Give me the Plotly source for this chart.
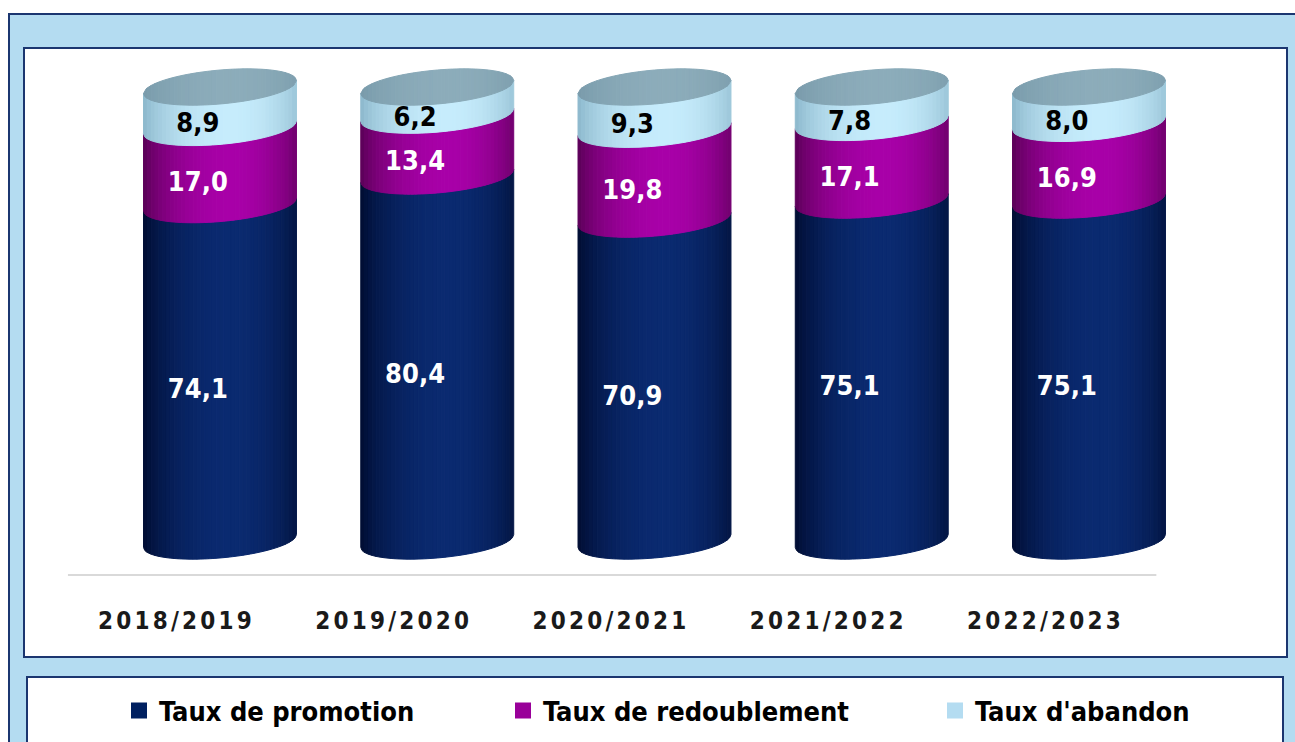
import numpy as np
import plotly.graph_objects as go

# ---------------- data ----------------
categories = ["2018/2019", "2019/2020", "2020/2021", "2021/2022", "2022/2023"]
promotion = [74.1, 80.4, 70.9, 75.1, 75.1]
redoublement = [17.0, 13.4, 19.8, 17.1, 16.9]
abandon = [8.9, 6.2, 9.3, 7.8, 8.0]
series_names = ["Taux de promotion", "Taux de redoublement", "Taux d'abandon"]

# ---------------- style ----------------
FONT = "DejaVu Sans Condensed, DejaVu Sans, Noto Sans, sans-serif"
NAVY_LINE = "#1b3670"
BG_BLUE = "#b4dcf1"
legend_colors = ["#002060", "#990099", "#b4dcf1"]
# (edge rgb, highlight rgb) for the side gradients
grad_colors = [
    ((0, 12, 48), (10, 42, 112)),
    ((88, 0, 84), (168, 0, 168)),
    ((138, 182, 202), (198, 236, 252)),
]
cap_grad = ((120, 154, 170), (140, 172, 186))
label_colors = ["white", "white", "black"]

W_PX, H_PX = 1295, 742
# cylinder geometry (data units)
HALF_W = 0.352      # half width in category units
B = 3.74            # vertical semi-axis of ellipses (value units)
S = 1.43            # tilt of ellipse midline (value units, right side higher)
N_STRIPS = 40


def front(v, t):
    return v + S * t - B * np.sqrt(np.clip(1 - t * t, 0, None))


def back(v, t):
    return v + S * t + B * np.sqrt(np.clip(1 - t * t, 0, None))


def shade(pair, t):
    edge, hi = pair
    tc = 0.15
    d = (1 + tc) if t < tc else (1 - tc + 0.12)
    f = max(0.0, 1 - ((t - tc) / d) ** 2) ** 0.8
    c = [int(round(e + (h - e) * f)) for e, h in zip(edge, hi)]
    return "rgb(%d,%d,%d)" % tuple(c)


fig = go.Figure()
n = len(categories)
xpos = np.arange(n)
t_edges = np.linspace(-1, 1, N_STRIPS + 1)

series = [promotion, redoublement, abandon]
lower = np.zeros(n)
bounds = []
for s_idx, vals in enumerate(series):
    upper = lower + np.array(vals)
    bounds.append((lower.copy(), upper.copy()))
    for k in range(N_STRIPS):
        t0, t1 = t_edges[k], t_edges[k + 1]
        ts = np.linspace(t0, t1, 4)
        xs, ys = [], []
        for i in range(n):
            xt = xpos[i] + HALF_W * ts
            yt = front(upper[i], ts)
            xb = xpos[i] + HALF_W * ts[::-1]
            yb = front(lower[i], ts[::-1])
            xs += list(xt) + list(xb) + [xt[0], None]
            ys += list(yt) + list(yb) + [yt[0], None]
        col = shade(grad_colors[s_idx], (t0 + t1) / 2)
        fig.add_trace(go.Scatter(x=xs, y=ys, mode="lines", fill="toself",
                                 fillcolor=col, line=dict(color=col, width=1),
                                 hoverinfo="skip", showlegend=False))
    lower = upper

# top caps
totals = lower
for k in range(N_STRIPS):
    t0, t1 = t_edges[k], t_edges[k + 1]
    ts = np.linspace(t0, t1, 4)
    xs, ys = [], []
    for i in range(n):
        xt = xpos[i] + HALF_W * ts
        yt = back(totals[i], ts)
        xb = xpos[i] + HALF_W * ts[::-1]
        yb = front(totals[i], ts[::-1])
        xs += list(xt) + list(xb) + [xt[0], None]
        ys += list(yt) + list(yb) + [yt[0], None]
    col = shade(cap_grad, (t0 + t1) / 2)
    fig.add_trace(go.Scatter(x=xs, y=ys, mode="lines", fill="toself",
                             fillcolor=col, line=dict(color=col, width=1),
                             hoverinfo="skip", showlegend=False))

# value labels (on the front face of each segment)
T_LABEL = -0.29
for s_idx, vals in enumerate(series):
    lo, up = bounds[s_idx]
    mids = (lo + up) / 2
    fig.add_trace(go.Scatter(
        x=xpos + HALF_W * T_LABEL,
        y=front(mids, T_LABEL),
        mode="text",
        text=[("%.1f" % v).replace(".", ",") for v in vals],
        textposition="middle center",
        textfont=dict(family=FONT, size=27, color=label_colors[s_idx], weight="bold"),
        hoverinfo="skip", showlegend=False))

# legend entries (one legend per item so they can sit like the original)
legend_keys = ["legend", "legend2", "legend3"]
for s_idx, name in enumerate(series_names):
    fig.add_trace(go.Scatter(
        x=[None], y=[None], mode="markers", name=name,
        marker=dict(symbol="square", size=16, color=legend_colors[s_idx]),
        legend=legend_keys[s_idx], showlegend=True))

# ---------------- layout ----------------
def px_x(p):
    return p / W_PX


def px_y(p):
    return 1 - p / H_PX


dom_top, dom_bot = 48, 604
px_per_unit = 4.54
zero_px = 541
y0 = -(dom_bot - zero_px) / px_per_unit
y1 = y0 + (dom_bot - dom_top) / px_per_unit

box_l, box_r = 24, 1287
x_unit = 217.25
first_center = 220
x0 = -(first_center - box_l) / x_unit
x1 = x0 + (box_r - box_l) / x_unit

# category labels sit a little left of the cylinders (perspective)
LABEL_OFFSET = -0.2

shapes = [
    # outer light-blue frame
    dict(type="rect", xref="paper", yref="paper", x0=px_x(9), x1=1.02,
         y0=px_y(14), y1=-0.02, fillcolor=BG_BLUE,
         line=dict(color=NAVY_LINE, width=2), layer="below"),
    # chart area
    dict(type="rect", xref="paper", yref="paper", x0=px_x(24), x1=px_x(1287),
         y0=px_y(48), y1=px_y(657), fillcolor="white",
         line=dict(color=NAVY_LINE, width=2), layer="below"),
    # legend area
    dict(type="rect", xref="paper", yref="paper", x0=px_x(27), x1=px_x(1283),
         y0=px_y(677), y1=-0.02, fillcolor="white",
         line=dict(color=NAVY_LINE, width=2), layer="below"),
    # floor line
    dict(type="line", xref="x", yref="y", x0=-0.70, x1=4.31, y0=-7.5, y1=-7.5,
         line=dict(color="#d9d9d9", width=2), layer="below"),
]

legend_common = dict(orientation="h", bgcolor="rgba(0,0,0,0)", borderwidth=0,
                     font=dict(family=FONT, size=27, color="black", weight="bold"),
                     yanchor="middle", y=px_y(711), xanchor="left",
                     itemclick=False, itemdoubleclick=False)

fig.update_layout(
    width=W_PX, height=H_PX,
    margin=dict(l=0, r=0, t=0, b=0),
    paper_bgcolor="white",
    plot_bgcolor="rgba(0,0,0,0)",
    shapes=shapes,
    xaxis=dict(domain=[px_x(box_l), px_x(box_r)], range=[x0, x1],
               tickvals=list(xpos + LABEL_OFFSET),
               ticktext=['<span style="letter-spacing:3.2px">%s</span>' % c for c in categories],
               tickfont=dict(family=FONT, size=24, color="#1a1a1a", weight="bold"),
               showgrid=False, zeroline=False, showline=False, ticks="",
               fixedrange=True),
    yaxis=dict(domain=[px_y(dom_bot), px_y(dom_top)], range=[y0, y1],
               visible=False, showgrid=False, zeroline=False, fixedrange=True),
    legend=dict(legend_common, x=px_x(119)),
    legend2=dict(legend_common, x=px_x(503)),
    legend3=dict(legend_common, x=px_x(935)),
    showlegend=True,
)

fig.write_html("out.html", config={"displayModeBar": False},
               post_script="document.body.style.margin='0';")
